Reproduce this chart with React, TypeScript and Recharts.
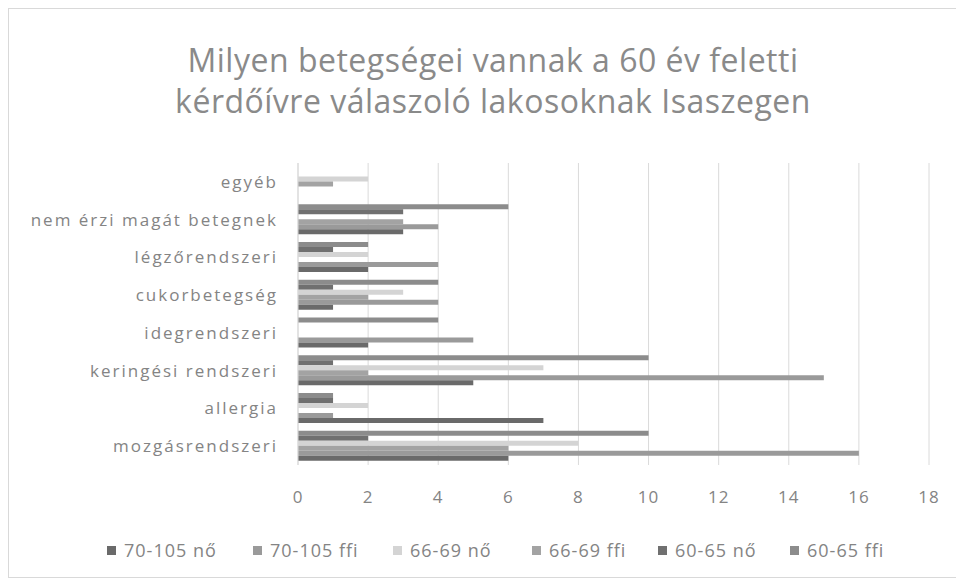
import { BarChart, Bar, XAxis, YAxis, CartesianGrid } from "recharts";

const categories = [
  "egyéb",
  "nem érzi magát betegnek",
  "légzőrendszeri",
  "cukorbetegség",
  "idegrendszeri",
  "keringési rendszeri",
  "allergia",
  "mozgásrendszeri",
];

const ffi6065 = [0, 6, 2, 4, 4, 10, 1, 10];
const no6065 = [0, 3, 1, 1, 0, 1, 1, 2];
const no6669 = [2, 0, 2, 3, 0, 7, 2, 8];
const ffi6669 = [1, 3, 0, 2, 0, 2, 0, 6];
const ffi70105 = [0, 4, 4, 4, 5, 15, 1, 16];
const no70105 = [0, 3, 2, 1, 2, 5, 7, 6];

const xTicks = [0, 2, 4, 6, 8, 10, 12, 14, 16, 18];

// drawn top to bottom inside each group
const series = [
  { key: "ffi6065", name: "60-65 ffi", color: "#8c8c8c", values: ffi6065 },
  { key: "no6065", name: "60-65 nő", color: "#707070", values: no6065 },
  { key: "no6669", name: "66-69 nő", color: "#d4d4d4", values: no6669 },
  { key: "ffi6669", name: "66-69 ffi", color: "#a3a3a3", values: ffi6669 },
  { key: "ffi70105", name: "70-105 ffi", color: "#9a9a9a", values: ffi70105 },
  { key: "no70105", name: "70-105 nő", color: "#6a6a6a", values: no70105 },
];

const legendOrder = ["no70105", "ffi70105", "no6669", "ffi6669", "no6065", "ffi6065"];
const legendX = [98, 244, 384, 523, 649, 781];

const data = categories.map((name, i) => {
  const row: Record<string, string | number> = { name };
  series.forEach((s) => (row[s.key] = s.values[i]));
  return row;
});

const textColor = "#848484";
const font = "'Open Sans', Lato, sans-serif";

export default function App() {
  return (
    <div
      style={{
        position: "relative",
        width: 950,
        height: 570,
        border: "1px solid #d9d9d9",
        boxSizing: "border-box",
        background: "#fff",
        fontFamily: font,
      }}
    >
      <div
        style={{
          position: "absolute",
          top: 30,
          left: 10,
          width: 948,
          textAlign: "center",
          color: "#8a8a8a",
          fontSize: 32,
          lineHeight: "41px",
          letterSpacing: 0.5,
        }}
      >
        Milyen betegségei vannak a 60 év feletti
        <br />
        kérdőívre válaszoló lakosoknak Isaszegen
      </div>
      <BarChart
        width={948}
        height={568}
        data={data}
        layout="vertical"
        margin={{ top: 154, right: 28, bottom: 82, left: 0 }}
        barCategoryGap="9%"
        barGap={0}
      >
        <CartesianGrid horizontal={false} stroke="#dadada" />
        <XAxis
          type="number"
          domain={[0, 18]}
          ticks={xTicks}
          axisLine={false}
          tickLine={false}
          tickSize={0}
          tickMargin={26}
          tick={{ fill: textColor, fontSize: 17, fontFamily: font, letterSpacing: 1 }}
        />
        <YAxis
          type="category"
          dataKey="name"
          width={289}
          axisLine={{ stroke: "#d9d9d9" }}
          tickLine={false}
          tickSize={0}
          tickMargin={20}
          tick={{ fill: textColor, fontSize: 17, fontFamily: font, letterSpacing: 2 }}
        />
        {series.map((s) => (
          <Bar key={s.key} dataKey={s.key} name={s.name} fill={s.color} isAnimationActive={false} />
        ))}
      </BarChart>
      {legendOrder.map((k, i) => {
        const s = series.find((x) => x.key === k)!;
        return (
          <div
            key={k}
            style={{
              position: "absolute",
              top: 530,
              left: legendX[i],
              display: "flex",
              alignItems: "center",
              color: textColor,
              fontSize: 18,
              lineHeight: "22px",
              letterSpacing: 1,
              whiteSpace: "nowrap",
            }}
          >
            <span style={{ width: 9, height: 9, background: s.color, marginRight: 8, display: "inline-block" }} />
            {s.name}
          </div>
        );
      })}
    </div>
  );
}
